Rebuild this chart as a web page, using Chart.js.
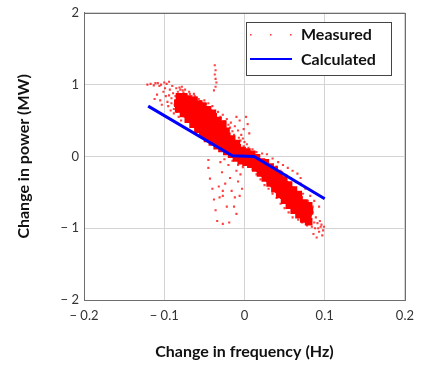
<!DOCTYPE html>
<html>
<head>
<meta charset="utf-8">
<script src="https://cdn.jsdelivr.net/npm/chart.js@4.4.0/dist/chart.umd.min.js"></script>
<style>
  html, body { margin: 0; padding: 0; background: #fff; }
  canvas { display: block; }
</style>
</head>
<body>
<canvas id="myChart" width="422" height="367"></canvas>
<script>
const COLOUR_MEASURED = '#ff0000';
const COLOUR_MEASURED_SPARSE = 'rgba(255, 0, 0, 0.75)';
const COLOUR_CALCULATED = '#0000ff';
const FONT = 'Lato, "Open Sans", sans-serif';

const xTickValues = [-0.2, -0.1, 0, 0.1, 0.2];
const xTickLabels = ['\u2212 0.2', '\u2212 0.1', '0', '0.1', '0.2'];
const yTickValues = [-2, -1, 0, 1, 2];
const yTickLabels = ['\u2212 2', '\u2212 1', '0', '1', '2'];

// calculated droop line (Hz, MW)
const calcX = [-0.12, -0.015, 0.012, 0.1];
const calcY = [0.70, 0.01, 0.0, -0.59];

// dense band of measured points
const measuredCore = [
  [-0.082,0.66],[-0.083,0.74],[-0.081,0.83],
  [-0.076,0.60],[-0.077,0.68],[-0.075,0.76],[-0.076,0.83],
  [-0.070,0.52],[-0.071,0.59],[-0.069,0.66],[-0.070,0.73],[-0.071,0.80],
  [-0.064,0.45],[-0.065,0.52],[-0.063,0.59],[-0.064,0.66],[-0.065,0.72],[-0.063,0.78],
  [-0.058,0.38],[-0.059,0.45],[-0.057,0.52],[-0.058,0.59],[-0.059,0.66],[-0.057,0.73],
  [-0.052,0.31],[-0.053,0.38],[-0.051,0.45],[-0.052,0.52],[-0.053,0.59],[-0.051,0.65],[-0.052,0.70],
  [-0.046,0.25],[-0.047,0.32],[-0.045,0.39],[-0.046,0.46],[-0.047,0.53],[-0.045,0.60],[-0.046,0.65],
  [-0.040,0.20],[-0.041,0.27],[-0.039,0.34],[-0.040,0.41],[-0.041,0.48],[-0.039,0.55],[-0.040,0.60],
  [-0.034,0.15],[-0.035,0.22],[-0.033,0.29],[-0.034,0.36],[-0.035,0.43],[-0.033,0.50],
  [-0.028,0.11],[-0.029,0.18],[-0.027,0.25],[-0.028,0.32],[-0.029,0.39],[-0.027,0.45],
  [-0.022,0.07],[-0.023,0.14],[-0.021,0.21],[-0.022,0.28],[-0.023,0.35],
  [-0.016,0.03],[-0.017,0.10],[-0.015,0.17],[-0.016,0.24],
  [-0.010,-0.02],[-0.011,0.05],[-0.009,0.12],[-0.010,0.18],
  [-0.004,-0.06],[-0.005,0.01],[-0.003,0.08],
  [0.002,-0.08],[0.001,-0.01],[0.003,0.06],
  [0.008,-0.11],[0.007,-0.04],[0.009,0.03],
  [0.014,-0.16],[0.013,-0.09],[0.015,-0.02],
  [0.020,-0.23],[0.019,-0.16],[0.021,-0.08],
  [0.026,-0.30],[0.025,-0.23],[0.027,-0.16],[0.026,-0.09],
  [0.032,-0.37],[0.031,-0.30],[0.033,-0.23],[0.032,-0.15],
  [0.038,-0.45],[0.037,-0.38],[0.039,-0.31],[0.038,-0.24],[0.037,-0.19],
  [0.044,-0.53],[0.043,-0.46],[0.045,-0.39],[0.044,-0.32],[0.043,-0.26],
  [0.050,-0.61],[0.049,-0.54],[0.051,-0.47],[0.050,-0.40],[0.049,-0.33],
  [0.056,-0.68],[0.055,-0.61],[0.057,-0.54],[0.056,-0.47],[0.055,-0.40],
  [0.062,-0.75],[0.061,-0.68],[0.063,-0.61],[0.062,-0.54],[0.061,-0.47],
  [0.068,-0.81],[0.067,-0.74],[0.069,-0.67],[0.068,-0.60],[0.067,-0.53],
  [0.074,-0.87],[0.073,-0.80],[0.075,-0.73],[0.074,-0.65],
  [0.080,-0.91],[0.079,-0.84],[0.081,-0.76],[0.080,-0.69]
];

// scattered measured points around the band
const measuredSparse = [
  [-0.121,1.00],[-0.117,1.01],[-0.113,0.99],[-0.108,1.02],[-0.104,1.00],[-0.100,1.03],
  [-0.097,1.01],[-0.094,1.04],[-0.106,0.98],[-0.111,1.02],
  [-0.112,0.80],[-0.109,0.86],[-0.105,0.78],[-0.101,0.90],[-0.098,0.84],[-0.096,0.76],
  [-0.093,0.93],[-0.091,0.81],[-0.089,0.88],[-0.087,0.72],[-0.085,0.95],[-0.083,0.90],
  [-0.080,0.93],[-0.078,0.97],[-0.076,0.89],[-0.074,0.93],[-0.072,0.86],[-0.069,0.90],
  [-0.066,0.84],[-0.063,0.87],[-0.060,0.82],[-0.057,0.80],[-0.103,0.72],[-0.095,0.70],
  [-0.088,0.66],[-0.084,0.62],[-0.099,0.95],[-0.090,0.98],[-0.086,0.78],
  [-0.088,0.60],[-0.082,0.55],[-0.079,0.50],[-0.092,0.64],
  [-0.094,0.85],[-0.091,0.74],[-0.086,0.84],[-0.081,0.96],[-0.077,0.92],[-0.068,0.87],
  [-0.062,0.84],[-0.055,0.77],[-0.048,0.73],[-0.043,0.68],[-0.060,0.35],[-0.054,0.27],
  [-0.037,1.27],[-0.036,1.20],[-0.037,1.14],[-0.036,1.08],[-0.035,1.03],[-0.036,0.97],[-0.038,0.92],
  [-0.050,0.78],[-0.045,0.74],[-0.040,0.70],[-0.033,0.62],[-0.027,0.58],[-0.022,0.52],
  [-0.017,0.47],[-0.012,0.42],[-0.008,0.36],[-0.010,0.55],[-0.006,0.50],[-0.004,0.30],
  [-0.002,0.25],[0.000,0.20],[0.003,0.17],[-0.015,0.35],[-0.020,0.44],[-0.025,0.49],
  [-0.030,0.55],[-0.018,0.40],[-0.013,0.30],[-0.007,0.26],[-0.001,0.14],
  [0.002,0.55],[0.004,0.45],[-0.001,0.38],[0.006,0.32],
  [0.005,0.12],[0.010,0.10],[0.015,0.06],[0.022,0.04],[-0.005,0.22],
  [-0.045,-0.05],[-0.045,-0.16],[-0.043,-0.31],[-0.040,-0.45],[-0.038,-0.60],[-0.036,-0.75],
  [-0.034,-0.90],[-0.030,-0.08],[-0.028,-0.22],[-0.027,-0.48],[-0.027,-0.55],[-0.024,-0.38],
  [-0.022,-0.70],[-0.020,-0.12],[-0.018,-0.30],[-0.016,-0.48],[-0.013,-0.70],[-0.012,-0.57],
  [-0.010,-0.80],[-0.010,-0.20],[-0.008,-0.35],[-0.006,-0.55],[-0.005,-0.25],[-0.003,-0.45],
  [-0.031,-0.57],[-0.032,-0.42],[-0.027,-0.94],[-0.019,-0.92],
  [-0.025,-0.04],[-0.015,-0.06],[-0.008,-0.12],[-0.002,-0.15],
  [0.028,0.03],[0.035,-0.03],[0.042,-0.08],[0.048,-0.12],[0.054,-0.16],[0.060,-0.20],
  [0.066,-0.24],[0.070,-0.30],[0.045,-0.20],[0.052,-0.26],[0.058,-0.30],[0.064,-0.36],
  [0.040,-0.14],[0.070,-0.38],[0.076,-0.45],[0.082,-0.55],[0.087,-0.62],[0.093,-0.70],
  [0.084,-0.98],[0.088,-1.00],[0.091,-0.93],[0.093,-1.05],[0.095,-0.98],[0.097,-1.10],
  [0.098,-1.03],[0.086,-1.08],[0.090,-1.13],[0.082,-0.89],[0.089,-0.85],[0.094,-0.90],
  [0.096,-0.95],[0.078,-0.96],[0.072,-0.92],[0.067,-0.88],[0.085,-0.78],[0.092,-1.00],
  [0.099,-0.98],[0.085,-0.70],[0.079,-0.62],[0.073,-0.52],[0.087,-0.92],[0.083,-0.82],
  [0.035,-0.52],[0.045,-0.66],[0.055,-0.78],[0.060,-0.85],[0.030,-0.45],[0.040,-0.58],[0.050,-0.72],
  [0.020,-0.32],[0.025,-0.40],[0.015,-0.25],[0.010,-0.18]
];

const legendItems = ['Measured', 'Calculated'];

const toPoints = (list) => list.map((p) => ({ x: p[0], y: p[1] }));

// frame around the plot plus the boxed legend in the top right
const frameAndLegend = {
  id: 'frameAndLegend',
  afterDraw(chart) {
    const ctx = chart.ctx;
    const a = chart.chartArea;
    ctx.save();
    ctx.strokeStyle = '#6e6e6e';
    ctx.lineWidth = 1;
    ctx.strokeRect(Math.round(a.left) + 0.5, Math.round(a.top) + 0.5,
      Math.round(a.right - a.left), Math.round(a.bottom - a.top));

    ctx.fillStyle = '#fff';
    ctx.fillRect(246.5, 22.5, 145, 53);
    ctx.strokeStyle = '#444';
    ctx.strokeRect(246.5, 22.5, 145, 53);

    ctx.fillStyle = 'rgba(255, 0, 0, 0.8)';
    [250, 270, 290].forEach((x) => ctx.fillRect(x, 34, 1.5, 1.5));

    ctx.strokeStyle = COLOUR_CALCULATED;
    ctx.lineWidth = 2;
    ctx.beginPath();
    ctx.moveTo(250, 59);
    ctx.lineTo(292, 59);
    ctx.stroke();

    ctx.fillStyle = '#111';
    ctx.font = 'bold 16px ' + FONT;
    ctx.textBaseline = 'middle';
    ctx.textAlign = 'left';
    ctx.fillText(legendItems[0], 301, 35);
    ctx.fillText(legendItems[1], 301, 60);
    ctx.restore();
  }
};

const ctx = document.getElementById('myChart');
const myChart = new Chart(ctx, {
  type: 'scatter',
  data: {
    datasets: [{
      label: legendItems[1],
      data: calcX.map((x, i) => ({ x: x, y: calcY[i] })),
      showLine: true,
      borderColor: COLOUR_CALCULATED,
      borderWidth: 3,
      pointRadius: 0,
      order: 0
    }, {
      label: legendItems[0],
      data: toPoints(measuredCore),
      backgroundColor: COLOUR_MEASURED,
      pointStyle: 'rect',
      pointRadius: 5.4,
      pointBorderWidth: 0,
      order: 1
    }, {
      label: legendItems[0],
      data: toPoints(measuredSparse),
      backgroundColor: COLOUR_MEASURED_SPARSE,
      pointStyle: 'rect',
      pointRadius: 1.5,
      pointBorderWidth: 0,
      order: 2
    }]
  },
  options: {
    responsive: false,
    animation: false,
    devicePixelRatio: 1,
    layout: { padding: { top: 11, right: 17, left: 0, bottom: 0 } },
    plugins: { legend: { display: false }, tooltip: { enabled: false } },
    scales: {
      x: {
        type: 'linear',
        min: -0.2,
        max: 0.2,
        afterBuildTicks: (s) => { s.ticks = xTickValues.map((v) => ({ value: v })); },
        afterFit: (s) => { s.height = 67; },
        grid: { color: '#d4d4d4', drawTicks: false },
        border: { color: '#6e6e6e' },
        ticks: {
          padding: 8,
          color: '#333',
          font: { family: FONT, size: 13 },
          callback: (v, i) => xTickLabels[i]
        },
        title: {
          display: true,
          text: 'Change in frequency (Hz)',
          color: '#111',
          font: { family: FONT, size: 16, weight: 'bold' },
          padding: { bottom: 6 }
        }
      },
      y: {
        type: 'linear',
        min: -2,
        max: 2,
        afterBuildTicks: (s) => { s.ticks = yTickValues.map((v) => ({ value: v })); },
        afterFit: (s) => { s.width = 84; },
        grid: { color: '#d4d4d4', drawTicks: false },
        border: { color: '#6e6e6e' },
        ticks: {
          padding: 5,
          color: '#333',
          font: { family: FONT, size: 13 },
          callback: (v, i) => yTickLabels[i]
        },
        title: {
          display: true,
          text: 'Change in power (MW)',
          color: '#111',
          font: { family: FONT, size: 16, weight: 'bold' },
          padding: { top: 14 }
        }
      }
    }
  },
  plugins: [frameAndLegend]
});
</script>
</body>
</html>
